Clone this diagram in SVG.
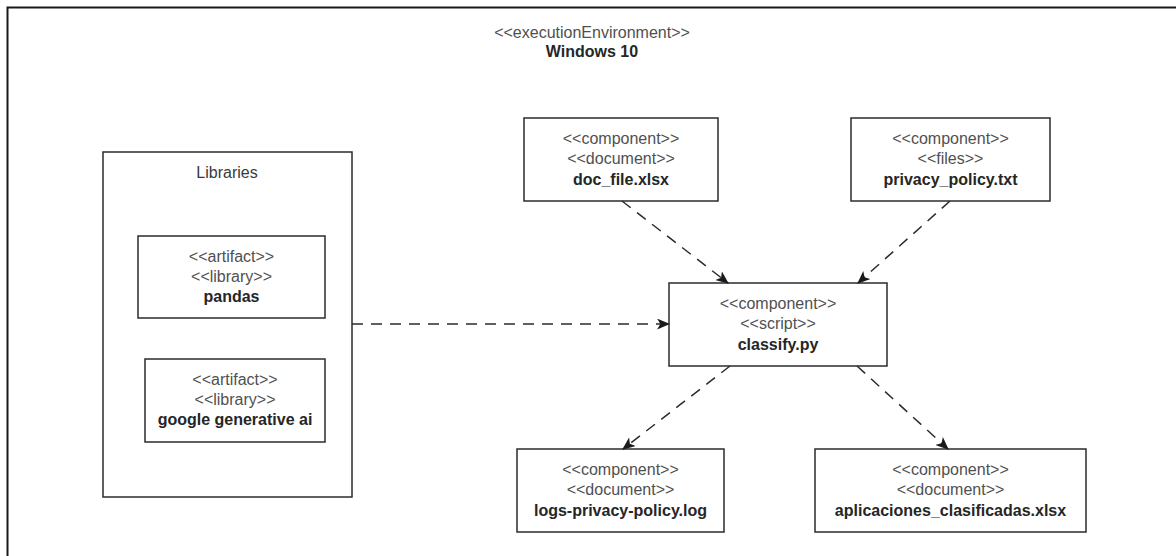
<svg xmlns="http://www.w3.org/2000/svg" width="1176" height="556" viewBox="0 0 1176 556">
  <defs>
    <!-- classic arrowhead with a notched back -->
    <marker id="arrow" viewBox="0 0 12 10" refX="11" refY="5" markerWidth="13" markerHeight="11" markerUnits="userSpaceOnUse" orient="auto">
      <path d="M0,0 L12,5 L0,10 L3,5 Z" fill="#1a1a1a"/>
    </marker>
  </defs>
  <style>
    .box { fill: #ffffff; stroke: #2b2b2b; stroke-width: 1.5; }
    .frame { fill: #ffffff; stroke: #1a1a1a; stroke-width: 2; }
    .st { font-family: "Liberation Sans", Arial, sans-serif; font-size: 16px; fill: #505050; text-anchor: middle; }
    .nm { font-family: "Liberation Sans", Arial, sans-serif; font-size: 16px; font-weight: bold; fill: #262626; text-anchor: middle; }
    .lbl { font-family: "Liberation Sans", Arial, sans-serif; font-size: 16px; fill: #3a3a3a; text-anchor: middle; }
    .dep { fill: none; stroke: #2b2b2b; stroke-width: 1.5; stroke-dasharray: 11 8; marker-end: url(#arrow); }
  </style>

  <rect width="1176" height="556" fill="#ffffff"/>

  <!-- execution environment frame (runs past the canvas edges) -->
  <g id="env">
    <rect class="frame" x="7.5" y="7.5" width="1200" height="600"/>
    <text class="st" x="592" y="38">&lt;&lt;executionEnvironment&gt;&gt;</text>
    <text class="nm" x="592" y="57">Windows 10</text>
  </g>

  <g id="libraries">
    <rect class="box" x="103" y="152" width="249" height="345"/>
    <text class="lbl" x="227" y="178">Libraries</text>
  </g>

  <g id="pandas">
    <rect class="box" x="138" y="236" width="187" height="82"/>
    <text class="st" x="231.5" y="262">&lt;&lt;artifact&gt;&gt;</text>
    <text class="st" x="231.5" y="282">&lt;&lt;library&gt;&gt;</text>
    <text class="nm" x="231.5" y="302">pandas</text>
  </g>

  <g id="google-genai">
    <rect class="box" x="145" y="359" width="180" height="83"/>
    <text class="st" x="235" y="385">&lt;&lt;artifact&gt;&gt;</text>
    <text class="st" x="235" y="405">&lt;&lt;library&gt;&gt;</text>
    <text class="nm" x="235" y="425">google generative ai</text>
  </g>

  <g id="doc-file">
    <rect class="box" x="524" y="118" width="194" height="83"/>
    <text class="st" x="621" y="144">&lt;&lt;component&gt;&gt;</text>
    <text class="st" x="621" y="164">&lt;&lt;document&gt;&gt;</text>
    <text class="nm" x="621" y="185">doc_file.xlsx</text>
  </g>

  <g id="privacy-policy">
    <rect class="box" x="851" y="118" width="199" height="83"/>
    <text class="st" x="950.5" y="144">&lt;&lt;component&gt;&gt;</text>
    <text class="st" x="950.5" y="164">&lt;&lt;files&gt;&gt;</text>
    <text class="nm" x="950.5" y="185">privacy_policy.txt</text>
  </g>

  <g id="classify">
    <rect class="box" x="669" y="283" width="218" height="83"/>
    <text class="st" x="778" y="309">&lt;&lt;component&gt;&gt;</text>
    <text class="st" x="778" y="329">&lt;&lt;script&gt;&gt;</text>
    <text class="nm" x="778" y="350">classify.py</text>
  </g>

  <g id="logs">
    <rect class="box" x="517" y="449" width="207" height="83"/>
    <text class="st" x="620.5" y="475">&lt;&lt;component&gt;&gt;</text>
    <text class="st" x="620.5" y="495">&lt;&lt;document&gt;&gt;</text>
    <text class="nm" x="620.5" y="516">logs-privacy-policy.log</text>
  </g>

  <g id="aplicaciones">
    <rect class="box" x="815" y="449" width="271" height="83"/>
    <text class="st" x="950.5" y="475">&lt;&lt;component&gt;&gt;</text>
    <text class="st" x="950.5" y="495">&lt;&lt;document&gt;&gt;</text>
    <text class="nm" x="950.5" y="516">aplicaciones_clasificadas.xlsx</text>
  </g>

  <g id="connectors">
    <line class="dep" x1="352" y1="324" x2="669" y2="324"/>
    <line class="dep" x1="622" y1="201" x2="728" y2="283"/>
    <line class="dep" x1="950" y1="201" x2="858" y2="283"/>
    <line class="dep" x1="730" y1="366" x2="623" y2="449"/>
    <line class="dep" x1="857" y1="366" x2="948" y2="449"/>
  </g>
</svg>
